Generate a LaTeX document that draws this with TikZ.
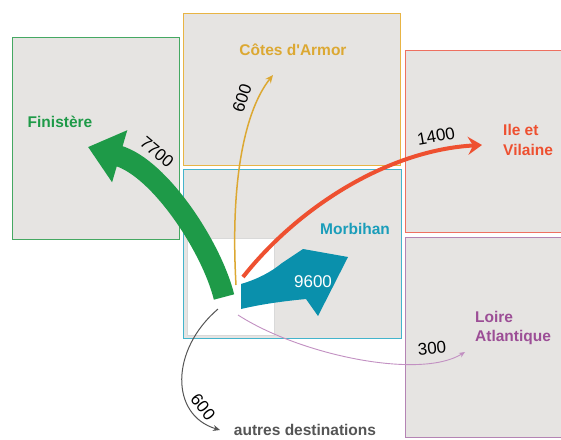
\documentclass[tikz,border=0pt]{standalone}
\usepackage{fontspec}
\setmainfont{Liberation Sans}
\usetikzlibrary{arrows.meta}
\definecolor{zonegray}{HTML}{E6E4E2}
\definecolor{finline}{HTML}{45A862}
\definecolor{fincol}{HTML}{1E9A48}
\definecolor{cotline}{HTML}{E8B444}
\definecolor{cotcol}{HTML}{DCA832}
\definecolor{illline}{HTML}{EE7060}
\definecolor{illcol}{HTML}{EE5030}
\definecolor{morline}{HTML}{44B4CC}
\definecolor{morcol}{HTML}{1A9DBA}
\definecolor{morarrow}{HTML}{0A90AC}
\definecolor{loiline}{HTML}{B484B4}
\definecolor{loicol}{HTML}{9C4E96}
\definecolor{loiarrow}{HTML}{C290C2}
\definecolor{autgray}{HTML}{555555}
\tikzset{
	zone/.style={draw=#1, fill=zonegray, line width=1pt, inner sep=0pt, outer sep=0pt, anchor=north west},
	dept/.style={text=#1, font=\bfseries\fontsize{15.5}{19.5}\selectfont, align=left, inner sep=0pt},
	flux/.style={font=\fontsize{17}{19}\selectfont, inner sep=0pt},
}
\begin{document}
\begin{tikzpicture}[x=1pt,y=-1pt]
		\clip (0,0) rectangle (561,439);
		\fill[white] (0,0) rectangle (561,439);
		\node[zone=finline, minimum width=167pt, minimum height=202pt] (fin) at (12,37) {};
		\node[zone=cotline, minimum width=217pt, minimum height=152pt] (cot) at (183,13) {};
		\node[zone=illline, minimum width=165pt, minimum height=182pt] (ill) at (405,50) {};
		\node[zone=morline, minimum width=218pt, minimum height=169pt] (mor) at (183,169) {};
		\node[zone=loiline, minimum width=165pt, minimum height=200pt] (loi) at (405,237) {};
		\node[draw=black!15, fill=white, line width=1pt, inner sep=0pt, outer sep=0pt, anchor=north west, minimum width=87pt, minimum height=97pt] (origin) at (187,238) {};
		\node[dept=fincol] (finlabel) at (60,122) {Finistère};
		\node[dept=cotcol] (cotlabel) at (293,50) {Côtes d\textquotesingle Armor};
		\node[dept=illcol, anchor=west] (illlabel) at (503,140) {Ile et\\Vilaine};
		\node[dept=morcol] (morlabel) at (355,229) {Morbihan};
		\node[dept=loicol, anchor=west] (loilabel) at (475,328) {Loire\\Atlantique};
		\node[dept=autgray] (autlabel) at (305,430) {autres destinations};
		\coordinate (finbase) at (224,297);
		\coordinate (fintip) at (88,147);
		\coordinate (cotbase) at (236,285);
		\coordinate (cottip) at (273,75);
		\coordinate (illbase) at (243,277);
		\coordinate (illtip) at (482,145);
		\coordinate (loibase) at (238,315);
		\coordinate (loitip) at (465,352);
		\coordinate (autbase) at (218,309);
		\coordinate (auttip) at (220,430);
		\draw[fincol, line width=21pt, -{Triangle[length=33pt,width=52pt]}] (finbase) .. controls (212,248) and (160,168) .. (fintip);
		\fill[morarrow] (241,284) .. controls (258,279) and (271,272) .. (282,263) -- (303,249) -- (348,257) -- (318,316) -- (306,299) .. controls (285,301) and (262,304) .. (241,309) -- cycle;
		\draw[cotcol, line width=1.5pt, -{Stealth[length=8pt,width=7pt]}] (cotbase) .. controls (230,180) and (245,110) .. (cottip);
		\draw[illcol, line width=4pt, -{Stealth[length=14pt,width=18pt,inset=5pt]}] (illbase) .. controls (300,205) and (390,150) .. (illtip);
		\draw[loiarrow, line width=0.9pt, -{Stealth[length=6pt,width=5pt]}] (loibase) .. controls (300,355) and (420,380) .. (loitip);
		\draw[autgray, line width=1pt, -{Stealth[length=7pt,width=6pt]}] (autbase) .. controls (170,350) and (170,415) .. (auttip);
		\node[flux, text=white] (n9600) at (313,282) {9600};
		\node[flux, rotate=-40] (n7700) at (157,152) {7700};
		\node[flux, rotate=72] (n600a) at (242,98) {600};
		\node[flux, rotate=10] (n1400) at (436,136) {1400};
		\node[flux, rotate=5] (n300) at (432,348) {300};
		\node[flux, rotate=-52] (n600b) at (203,407) {600};
	\end{tikzpicture}
\end{document}
